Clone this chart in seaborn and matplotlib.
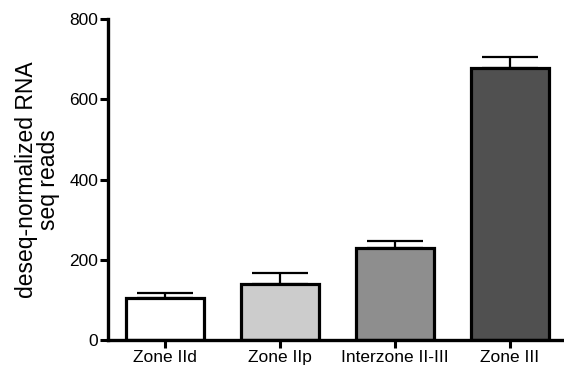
import pandas as pd
import matplotlib
matplotlib.use("Agg")
import matplotlib.pyplot as plt
import seaborn as sns

# values
zones = ["Zone IId", "Zone IIp", "Interzone II-III", "Zone III"]
reads = [105, 139, 230, 678]
sem = [13, 27, 17, 28]
colors = ["#ffffff", "#cccccc", "#8e8e8e", "#505050"]

df = pd.DataFrame({"zone": zones, "reads": reads})

sns.set_style("ticks", {"axes.edgecolor": "black", "xtick.color": "black",
                        "ytick.color": "black", "text.color": "black",
                        "axes.labelcolor": "black"})
plt.rcParams["font.family"] = ["Liberation Sans", "DejaVu Sans"]

fig = plt.figure(figsize=(5.64, 3.74), dpi=100)
ax = fig.add_axes([0.1915, 0.091, 0.806, 0.858])

sns.barplot(data=df, x="zone", y="reads", hue="zone", palette=colors,
            order=zones, hue_order=zones, errorbar=None, width=0.68,
            edgecolor="black", linewidth=2.3, legend=False, ax=ax)

# upper-only error bars
ax.errorbar(range(len(zones)), reads, yerr=[[0] * len(zones), sem], fmt="none",
            ecolor="black", elinewidth=1.6, capsize=20, capthick=1.6, zorder=1)

ax.set_xlim(-0.5, 3.46)
ax.set_ylim(0, 800)
ax.set_yticks([0, 200, 400, 600, 800])
ax.set_xlabel("")
ax.set_ylabel("deseq-normalized RNA\nseq reads", fontsize=16.5, linespacing=0.9,
              labelpad=7)
ax.tick_params(axis="both", width=2.2, length=6, labelsize=12.5, pad=1,
               colors="black")
for side in ["left", "bottom"]:
    ax.spines[side].set_linewidth(2.4)
sns.despine(ax=ax)

fig.savefig("out.png", dpi=100)
